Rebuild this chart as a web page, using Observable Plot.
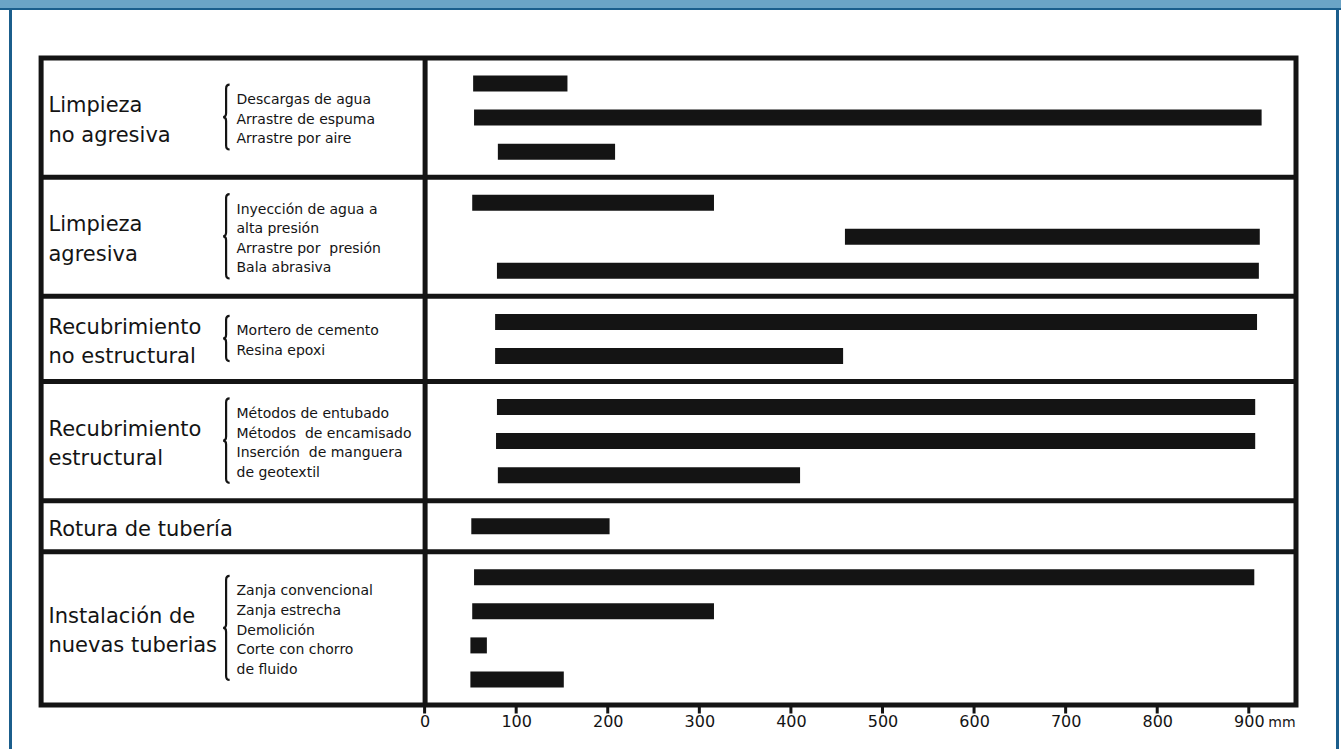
<!DOCTYPE html>
<html>
<head>
<meta charset="utf-8">
<script src="https://cdn.jsdelivr.net/npm/d3@7"></script>
<script src="https://cdn.jsdelivr.net/npm/@observablehq/plot@0.6"></script>
<style>
  html, body { margin: 0; padding: 0; background: #fff; }
  #wrap { position: relative; width: 1341px; height: 749px; overflow: hidden; background: #fff; }
  #chart { position: absolute; left: 0; top: 0; }
  #chart svg text { white-space: pre; }
  .hdr { position: absolute; left: 0; top: 0; width: 1341px; height: 8px; background: #6ba4c6; border-bottom: 2px solid #1b5e8c; z-index: 2; }
  .vl { position: absolute; top: 8px; width: 3px; height: 741px; background: #1b5e8c; z-index: 2; }
</style>
</head>
<body>
<div id="wrap">
  <div id="chart"></div>
  <div class="hdr"></div>
  <div class="vl" style="left:9px"></div>
  <div class="vl" style="left:1336px"></div>
</div>
<script>
// ---- data ----
const groups = [
  "Limpieza\nno agresiva",
  "Limpieza\nagresiva",
  "Recubrimiento\nno estructural",
  "Recubrimiento\nestructural",
  "Rotura de tubería",
  "Instalación de\nnuevas tuberias"
];
const subLabels = [
  "Descargas de agua\nArrastre de espuma\nArrastre por aire",
  "Inyección de agua a\nalta presión\nArrastre por  presión\nBala abrasiva",
  "Mortero de cemento\nResina epoxi",
  "Métodos de entubado\nMétodos  de encamisado\nInserción  de manguera\nde geotextil",
  "",
  "Zanja convencional\nZanja estrecha\nDemolición\nCorte con chorro\nde fluido"
];
const methods = [
  "Descargas de agua", "Arrastre de espuma", "Arrastre por aire",
  "Inyección de agua a alta presión", "Arrastre por presión", "Bala abrasiva",
  "Mortero de cemento", "Resina epoxi",
  "Métodos de entubado", "Métodos de encamisado", "Inserción de manguera de geotextil",
  "Rotura de tubería",
  "Zanja convencional", "Zanja estrecha", "Demolición", "Corte con chorro de fluido"
];
const methodGroup = [0, 0, 0, 1, 1, 1, 2, 2, 3, 3, 3, 4, 5, 5, 5, 5];
const minDiameter = [53, 54, 80, 52, 459, 79, 77, 77, 79, 78, 80, 51, 54, 52, 50, 50];
const maxDiameter = [156, 914, 208, 316, 912, 911, 909, 457, 907, 907, 410, 202, 906, 316, 68, 152];
const xTicks = [0, 100, 200, 300, 400, 500, 600, 700, 800, 900];
const unit = "mm";

// ---- layout derived from data (slot units) ----
const GAP = 0.5;
const counts = groups.map((_, gi) => methodGroup.filter(g => g === gi).length);
let acc = 0;
const rows = groups.map((label, gi) => {
  const top = acc;
  acc += counts[gi] + GAP;
  const sub = subLabels[gi];
  return {label, sub, top, bottom: acc, mid: (top + acc) / 2, lines: sub ? sub.split("\n").length : 0};
});
const total = acc;
const seen = {};
const bars = methods.map((m, i) => {
  const gi = methodGroup[i];
  const k = (seen[gi] = (seen[gi] ?? -1) + 1);
  return {method: m, lo: minDiameter[i], hi: maxDiameter[i], y: rows[gi].top + GAP / 2 + k + 0.5};
});
const boundaries = rows.slice(1).map(r => r.top);

const INK = "#141414";
const FONT = "DejaVu Sans";
const LEFT = 424.6, TOP = 57.5, BOTTOM = 44.5, H = 749;
const SUBSIZE = 14, SUBLH = 1.4;

function braces(index, scales, values, dimensions) {
  const g = d3.create("svg:g").attr("fill", "none").attr("stroke", INK).attr("stroke-width", 2.2);
  for (const r of rows) {
    if (!r.lines) continue;
    const cy = scales.y(r.mid);
    const half = r.lines * SUBSIZE * SUBLH / 2 + 3;
    const y0 = cy - half, y1 = cy + half;
    const xa = dimensions.marginLeft - 195, xm = xa - 3.5, xt = xa - 6.5;
    const q = 4;
    g.append("path").attr("d",
      `M${xa},${y0} Q${xm},${y0} ${xm},${y0 + q} L${xm},${cy - q} Q${xm},${cy} ${xt},${cy}` +
      ` Q${xm},${cy} ${xm},${cy + q} L${xm},${y1 - q} Q${xm},${y1} ${xa},${y1}`);
  }
  return g.node();
}

function axisTicks(index, scales, values, dimensions) {
  const g = d3.create("svg:g");
  const yb = dimensions.height - dimensions.marginBottom;
  for (const t of xTicks) {
    const x = scales.x(t);
    g.append("rect").attr("x", x - 1.5).attr("width", 3).attr("y", yb).attr("height", 9).attr("fill", INK);
  }
  return g.node();
}

const plot = Plot.plot({
  width: 1341,
  height: H,
  marginTop: TOP,
  marginBottom: BOTTOM,
  marginLeft: LEFT,
  marginRight: 45.5,
  style: {fontFamily: FONT, background: "transparent", color: INK, overflow: "visible"},
  x: {domain: [0, 951], axis: null},
  y: {domain: [0, total], reverse: true, axis: null},
  marks: [
    Plot.ruleY(bars, {y: "y", x1: "lo", x2: "hi", stroke: INK, strokeWidth: 16}),
    Plot.ruleY(boundaries, {insetLeft: -384, stroke: INK, strokeWidth: 5}),
    Plot.ruleX([0], {stroke: INK, strokeWidth: 5}),
    Plot.frame({insetLeft: -384, stroke: INK, strokeWidth: 5}),
    axisTicks,
    Plot.text(xTicks, {x: d => d, text: d => String(d), frameAnchor: "bottom", dy: 10.5, lineAnchor: "top", fontSize: 16, fill: INK}),
    Plot.text([xTicks[xTicks.length - 1]], {x: d => d, text: () => unit, frameAnchor: "bottom", dy: 12, dx: 19, textAnchor: "start", lineAnchor: "top", fontSize: 14, fill: INK}),
    Plot.text(rows, {y: "mid", text: "label", frameAnchor: "left", dx: 48 - LEFT, textAnchor: "start", fontSize: 21, lineHeight: 1.4, fill: INK}),
    Plot.text(rows.filter(r => r.lines), {y: "mid", text: "sub", frameAnchor: "left", dx: 236 - LEFT, textAnchor: "start", fontSize: SUBSIZE, lineHeight: SUBLH, fill: INK}),
    braces
  ]
});
document.getElementById("chart").appendChild(plot);
</script>
</body>
</html>
